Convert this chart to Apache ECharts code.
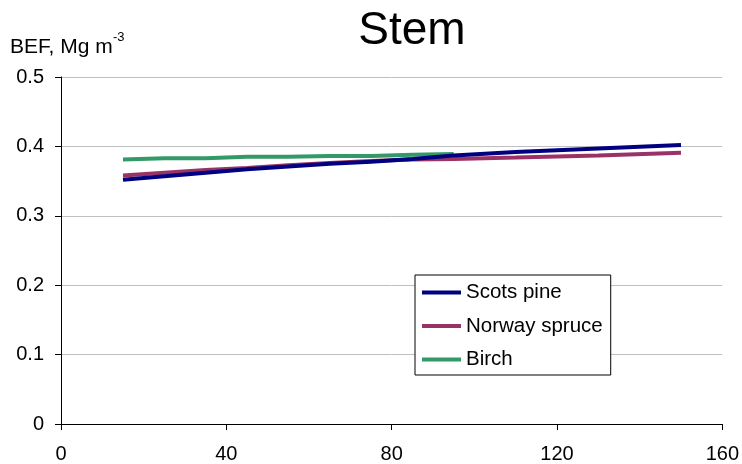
<!DOCTYPE html>
<html><head><meta charset="utf-8">
<script src="https://cdn.jsdelivr.net/npm/echarts@6/dist/echarts.min.js"></script>
<style>html,body{margin:0;padding:0;background:#fff}#c{width:742px;height:464px}</style>
</head><body><div id="c"></div>
<script>
const xTicks = [0, 40, 80, 120, 160];
const yTicks = [0, 0.1, 0.2, 0.3, 0.4, 0.5];
const pineX = [15, 25, 35, 45, 55, 65, 75, 85, 95, 110, 130, 150];
const pineY = [0.352, 0.357, 0.362, 0.367, 0.371, 0.375, 0.378, 0.382, 0.387, 0.392, 0.397, 0.402];
const spruceX = [15, 25, 35, 45, 55, 65, 75, 85, 95, 110, 130, 150];
const spruceY = [0.358, 0.362, 0.366, 0.369, 0.373, 0.376, 0.379, 0.381, 0.382, 0.384, 0.387, 0.391];
const birchX = [15, 25, 35, 45, 55, 65, 75, 85, 95];
const birchY = [0.381, 0.383, 0.383, 0.385, 0.385, 0.386, 0.386, 0.388, 0.389];
const names = ['Scots pine', 'Norway spruce', 'Birch'];
const colors = ['#000080', '#993366', '#339966'];

const zip = (xs, ys) => xs.map((x, i) => [x, ys[i]]);
const font = 'Liberation Sans, Arial, sans-serif';
const chart = echarts.init(document.getElementById('c'));
chart.setOption({
  animation: false,
  title: { text: 'Stem', left: 407, top: 3, textAlign: 'center',
    textStyle: { fontFamily: font, fontSize: 46, fontWeight: 'normal', color: '#000' } },
  graphic: [
    { type: 'text', left: 10, top: 37,
      style: { text: 'BEF, Mg m', fontFamily: font, fontSize: 21, fill: '#000' } },
    { type: 'text', left: 113, top: 31,
      style: { text: '-3', fontFamily: font, fontSize: 13, fill: '#000' } }
  ],
  grid: { left: 61, right: 19, top: 77, bottom: 40 },
  legend: {
    orient: 'vertical', left: 415, top: 275,
    data: names, itemWidth: 39, itemHeight: 4, itemGap: 12.5,
    icon: 'rect', backgroundColor: '#fff', borderColor: '#000', borderWidth: 1,
    padding: [7, 8, 5, 7],
    textStyle: { fontFamily: font, fontSize: 20.5, color: '#000' }
  },
  xAxis: {
    type: 'value', min: xTicks[0], max: xTicks[xTicks.length - 1], interval: 40,
    axisLine: { lineStyle: { color: '#000', width: 1 } },
    axisTick: { show: true, length: 6, lineStyle: { color: '#000' } },
    axisLabel: { fontFamily: font, fontSize: 20, color: '#000', margin: 20 },
    splitLine: { show: false }
  },
  yAxis: {
    type: 'value', min: yTicks[0], max: yTicks[yTicks.length - 1], interval: 0.1,
    axisLine: { show: true, lineStyle: { color: '#000', width: 1 } },
    axisTick: { show: true, length: 6, lineStyle: { color: '#000' } },
    axisLabel: { fontFamily: font, fontSize: 20, color: '#000', margin: 17,
      formatter: v => v === 0 ? '0' : v.toFixed(1) },
    splitLine: { show: true, lineStyle: { color: '#c0c0c0', width: 1 } }
  },
  series: [
    { name: names[0], type: 'line', data: zip(pineX, pineY) },
    { name: names[1], type: 'line', data: zip(spruceX, spruceY) },
    { name: names[2], type: 'line', data: zip(birchX, birchY) }
  ].map((s, i) => Object.assign(s, {
    showSymbol: false, symbol: 'none', color: colors[i],
    lineStyle: { color: colors[i], width: 4 }, z: 3 - i
  }))
});
</script></body></html>
